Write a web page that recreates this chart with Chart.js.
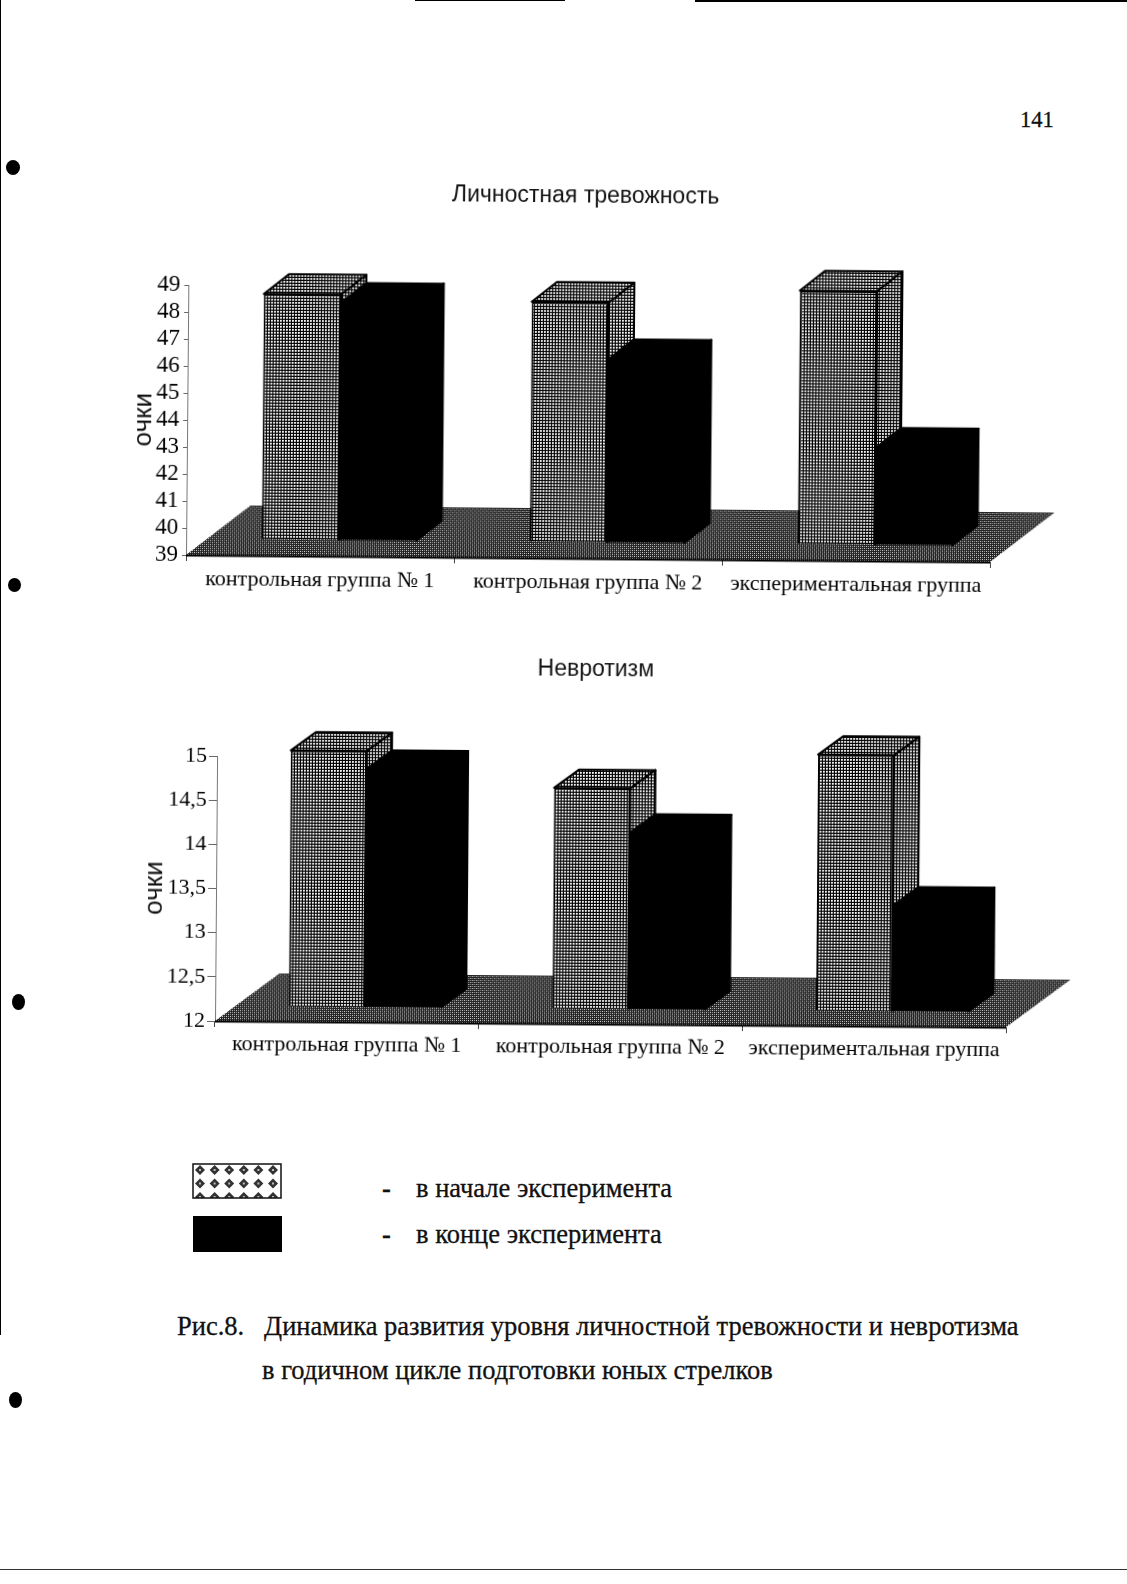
<!DOCTYPE html>
<html lang="ru">
<head>
<meta charset="utf-8">
<title>Рис.8</title>
<style>
html,body{margin:0;padding:0;background:#fff;}
body{position:relative;width:1127px;height:1584px;overflow:hidden;font-family:"Liberation Serif",serif;color:#111;}
.t{position:absolute;white-space:nowrap;line-height:1;-webkit-text-stroke:.3px #111;}
canvas{position:absolute;}
.m{position:absolute;background:#000;}
.b{position:absolute;background:#000;border-radius:50%;}
</style>
<script src="https://cdn.jsdelivr.net/npm/chart.js@4"></script>
</head>
<body>
<div class="m" style="left:695px;top:0;width:432px;height:2px"></div>
<div class="m" style="left:415px;top:0;width:150px;height:1px"></div>
<div class="m" style="left:0;top:0;width:1px;height:1335px"></div>
<div class="m" style="left:0;top:1569px;width:1127px;height:1px;background:#333"></div>
<div class="b" style="left:6px;top:160px;width:14px;height:15px"></div>
<div class="b" style="left:8px;top:578px;width:13px;height:14px"></div>
<div class="b" style="left:12px;top:994px;width:13px;height:16px"></div>
<div class="b" style="left:9px;top:1392px;width:13px;height:16px"></div>

<div class="t" style="left:1020px;top:109px;font-size:22.5px">141</div>

<canvas id="c1" width="972" height="440" style="left:100px;top:170px"></canvas>
<canvas id="c2" width="972" height="440" style="left:110px;top:640px"></canvas>

<canvas id="sw1" width="90" height="36" style="left:192px;top:1163px"></canvas>
<div class="m" style="left:193px;top:1216px;width:89px;height:36px"></div>
<div class="t" style="left:382px;top:1175px;font-size:26.5px;font-weight:bold">-</div>
<div class="t" style="left:416px;top:1175px;font-size:26.5px">в начале эксперимента</div>
<div class="t" style="left:382px;top:1221px;font-size:26.5px;font-weight:bold">-</div>
<div class="t" style="left:416px;top:1221px;font-size:26.5px">в конце эксперимента</div>
<div class="t" style="left:177px;top:1313px;font-size:26.5px">Рис.8.&nbsp;&nbsp; Динамика развития уровня личностной тревожности и невротизма</div>
<div class="t" style="left:262px;top:1357px;font-size:26.5px">в годичном цикле подготовки юных стрелков</div>

<script>
const categories = ['контрольная группа № 1', 'контрольная группа № 2', 'экспериментальная группа'];
const seriesNames = ['в начале эксперимента', 'в конце эксперимента'];
const title1 = 'Личностная тревожность';
const title2 = 'Невротизм';
const yTitle = 'очки';
const anxietyStart = [48.1, 47.9, 48.4];
const anxietyEnd = [47.8, 45.8, 42.6];
const neuroStart = [14.9, 14.5, 14.9];
const neuroEnd = [14.7, 14.0, 13.2];

function tile(size, paint) {
  const c = document.createElement('canvas');
  c.width = c.height = size;
  paint(c.getContext('2d'));
  return c;
}
const probe = document.createElement('canvas').getContext('2d');
const gridPattern = probe.createPattern(tile(3, g => {
  g.fillStyle = '#000'; g.fillRect(0, 0, 3, 3);
  g.fillStyle = '#fff'; g.fillRect(0, 0, 1, 1);
  g.fillStyle = '#ddd'; g.fillRect(1, 0, 1, 1); g.fillRect(0, 1, 1, 1);
  g.fillStyle = '#aaa'; g.fillRect(1, 1, 1, 1);
}), 'repeat');
const floorPattern = probe.createPattern(tile(4, g => {
  g.fillStyle = '#222'; g.fillRect(0, 0, 4, 4);
  g.fillStyle = '#ddd'; g.fillRect(0, 0, 1, 1); g.fillRect(2, 2, 1, 1);
  g.fillStyle = '#999'; g.fillRect(2, 0, 1, 1); g.fillRect(0, 2, 1, 1);
}), 'repeat');

const scene3d = {
  id: 'scene3d',
  afterLayout(chart, args, o) {
    chart.titleBlock.left += o.titleShift;
    chart.titleBlock.right += o.titleShift;
  },
  beforeDatasetsDraw(chart, args, o) {
    const { ctx, scales: { x, y } } = chart;
    const bottom = y.bottom;
    ctx.save();
    ctx.beginPath();
    ctx.moveTo(x.left, bottom);
    ctx.lineTo(x.right, bottom);
    ctx.lineTo(x.right + o.floorDx, bottom - o.floorDy);
    ctx.lineTo(x.left + o.floorDx, bottom - o.floorDy);
    ctx.closePath();
    ctx.fillStyle = floorPattern;
    ctx.fill();
    ctx.beginPath();
    ctx.moveTo(x.left, bottom + .5);
    ctx.lineTo(x.right, bottom + .5);
    ctx.strokeStyle = '#000';
    ctx.lineWidth = 2;
    ctx.stroke();
    ctx.restore();

    ctx.save();
    ctx.translate(o.dx, -o.dy);
    chart.data.datasets.forEach((ds, i) => {
      chart.getDatasetMeta(i).data.forEach(el => {
        const p = el.getProps(['x', 'y', 'base', 'width'], true);
        const L = p.x - p.width / 2, R = p.x + p.width / 2, T = p.y, B = p.base;
        const top = [[L, T], [L + o.bx, T - o.by], [R + o.bx, T - o.by], [R, T]];
        const side = [[R, T], [R + o.bx, T - o.by], [R + o.bx, B - o.by], [R, B]];
        [top, side].forEach(poly => {
          ctx.beginPath();
          poly.forEach((q, k) => k ? ctx.lineTo(q[0], q[1]) : ctx.moveTo(q[0], q[1]));
          ctx.closePath();
          ctx.fillStyle = ds.backgroundColor;
          ctx.fill();
          ctx.strokeStyle = '#000';
          ctx.lineWidth = 2;
          ctx.lineJoin = 'round';
          ctx.stroke();
        });
      });
    });
    ctx.restore();
    ctx.save();
    ctx.translate(o.dx, -o.dy);
  },
  afterDatasetsDraw(chart) { chart.ctx.restore(); }
};

function makeChart(id, title, titleTop, startVals, endVals, yMin, yMax, yStep, geom, area) {
  const options = {
    responsive: false,
    animation: false,
    devicePixelRatio: 1,
    events: [],
    layout: { padding: { left: area.left - geom.yWidth, right: 972 - area.right, top: 0, bottom: 10 } },
    plugins: {
      legend: { display: false },
      tooltip: { enabled: false },
      title: {
        display: true, text: title, color: '#111',
        font: { family: 'Liberation Sans', size: 23, weight: 'normal' },
        padding: { top: titleTop, bottom: 40 }
      },
      scene3d: geom
    },
    scales: {
      x: {
        grid: { display: true, offset: true, drawOnChartArea: false, drawTicks: true, tickLength: 6, color: '#444' },
        border: { display: true, color: '#444' },
        ticks: { color: '#000', maxRotation: 0, minRotation: 0, autoSkip: false, padding: geom.xPad,
                 font: { family: 'Liberation Serif', size: 22 } }
      },
      y: {
        min: yMin, max: yMax,
        afterFit(s) { s.width = geom.yWidth; },
        grid: { drawOnChartArea: false, tickLength: geom.yTick, color: '#666' },
        border: { display: true, color: '#777' },
        title: { display: true, text: yTitle, color: '#111', padding: 0,
                 font: { family: 'Liberation Sans', size: 26 } },
        ticks: { stepSize: yStep, color: '#000', padding: geom.yPad, autoSkip: false,
                 font: { family: 'Liberation Serif', size: geom.ySize },
                 callback: v => String(v).replace('.', ',') }
      }
    }
  };
  const chart = new Chart(document.getElementById(id), {
    type: 'bar',
    plugins: [scene3d],
    data: {
      labels: categories,
      datasets: [
        { label: seriesNames[0], data: startVals, base: yMin, backgroundColor: gridPattern, borderColor: '#000', borderWidth: 2,
          barPercentage: 1, categoryPercentage: geom.group, clip: false },
        { label: seriesNames[1], data: endVals, base: yMin, backgroundColor: '#000', borderWidth: 0,
          barPercentage: 1, categoryPercentage: geom.group, clip: false }
      ]
    },
    options
  });
  for (let n = 0; n < 3; n++) {
    const a = chart.chartArea, p = options.layout.padding;
    options.plugins.title.padding.bottom += area.top - a.top;
    p.bottom += a.bottom - area.bottom;
    p.left += area.left - a.left;
    p.right += a.right - area.right;
    chart.update('none');
  }
  const c = document.getElementById(id);
  c.style.transformOrigin = area.left + 'px ' + area.bottom + 'px';
  c.style.transform = 'rotate(' + geom.tilt + 'deg)';
  return chart;
}

makeChart('c1', title1, 9, anxietyStart, anxietyEnd, 39, 49, 1,
  { dx: 19, dy: 16, bx: 25, by: 20, floorDx: 64, floorDy: 50, group: 0.578, tilt: 0.5,
    titleShift: 24, yWidth: 59, yTick: 4, yPad: 4, ySize: 23, xPad: 5 },
  { left: 86, right: 890, top: 115, bottom: 385 });
makeChart('c2', title2, 13, neuroStart, neuroEnd, 12, 15, 0.5,
  { dx: 18, dy: 15, bx: 25, by: 18.5, floorDx: 64, floorDy: 48, group: 0.578, tilt: 0.45,
    titleShift: 21, yWidth: 77, yTick: 8, yPad: 2, ySize: 22, xPad: 4 },
  { left: 105, right: 896, top: 116, bottom: 381 });

/* legend swatch */
(function () {
  const g = document.getElementById('sw1').getContext('2d');
  g.fillStyle = '#fff'; g.fillRect(0, 0, 90, 36);
  g.save();
  g.beginPath(); g.rect(1, 1, 88, 34); g.clip();
  for (let r = 0; r < 3; r++) for (let c = 0; c < 6; c++) {
    const x = 8 + c * 14.6, y = 7 + r * 13.5;
    g.fillStyle = '#333';
    g.beginPath();
    g.moveTo(x, y - 5); g.lineTo(x + 5, y); g.lineTo(x, y + 5); g.lineTo(x - 5, y);
    g.closePath(); g.fill();
    g.fillStyle = '#bbb';
    g.fillRect(x - 1, y - 1, 2, 2);
  }
  g.restore();
  g.strokeStyle = '#111'; g.lineWidth = 1.5;
  g.strokeRect(1, 1, 88, 34);
})();
</script>
</body>
</html>
